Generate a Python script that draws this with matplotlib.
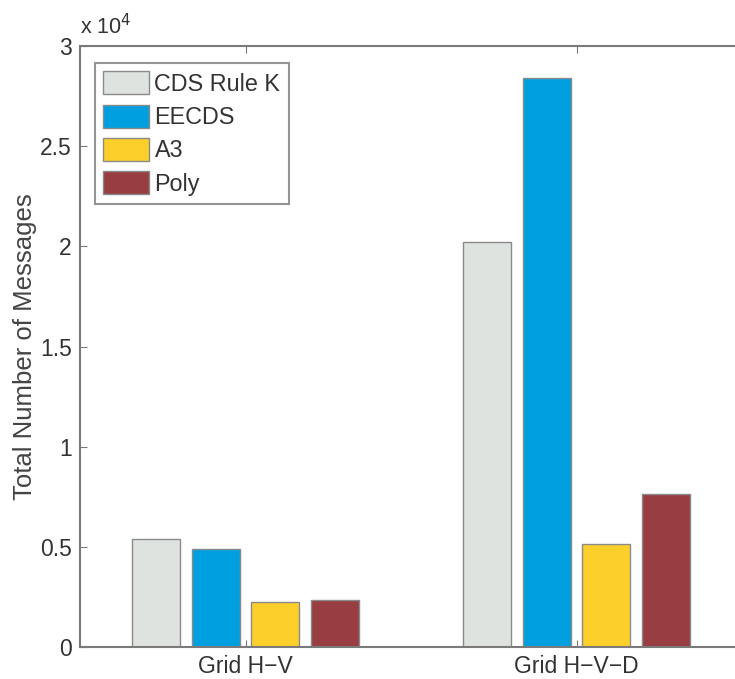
import numpy as np
import matplotlib
matplotlib.use('Agg')
import matplotlib.pyplot as plt
from matplotlib.ticker import FuncFormatter

plt.rcParams['font.family'] = ['Liberation Sans', 'DejaVu Sans']

# data
categories = ['Grid H\u2212V', 'Grid H\u2212V\u2212D']
series = ['CDS Rule K', 'EECDS', 'A3', 'Poly']
cds_rule_k = [5410, 20240]
eecds = [4910, 28400]
a3 = [2250, 5130]
poly = [2370, 7660]
colors = ['#dfe3df', '#00a0e0', '#fccf2a', '#983e42']

values = [cds_rule_k, eecds, a3, poly]
scale = 1e4

fig = plt.figure(figsize=(7.35, 6.79), dpi=100)
ax = fig.add_axes([80 / 735, 32 / 679, 662 / 735, 601 / 679])

x = np.arange(1, len(categories) + 1)
width = 0.145
step = 0.181
for i, (name, vals) in enumerate(zip(series, values)):
    ax.bar(x + (i - 1.5) * step, np.array(vals) / scale, width,
           color=colors[i], edgecolor='#8a8a8a', linewidth=1.0, label=name)

ax.set_xlim(0.5, 2.5)
ax.set_ylim(0, 3)
ax.set_xticks(x)
ax.set_xticklabels(categories)
ax.set_yticks(np.arange(0, 3.01, 0.5))
ax.yaxis.set_major_formatter(FuncFormatter(lambda v, p: '%g' % v))
ax.tick_params(direction='in', length=5, width=0.8, color='#777777',
               labelsize=16.5, labelcolor='#333333', top=True, right=True, pad=6)
for s in ax.spines.values():
    s.set_color('#7a7a7a')
    s.set_linewidth(1.5)

ax.set_ylabel('Total Number of Messages', fontsize=18.5, color='#444444', labelpad=2)
ax.text(0.0, 1.012, 'x 10$^4$', transform=ax.transAxes, fontsize=15.5,
        color='#333333', ha='left', va='bottom')

leg = ax.legend(loc='upper left', bbox_to_anchor=(15 / 662, 1 - 17 / 601),
                borderaxespad=0, fontsize=16.8, frameon=True, fancybox=False,
                handlelength=1.95, handleheight=1.15, handletextpad=0.25,
                labelspacing=0.38, borderpad=0.35)
leg.get_frame().set_edgecolor('#7a7a7a')
leg.get_frame().set_linewidth(1.5)
for t in leg.get_texts():
    t.set_color('#333333')

fig.savefig('out.png', dpi=100)
